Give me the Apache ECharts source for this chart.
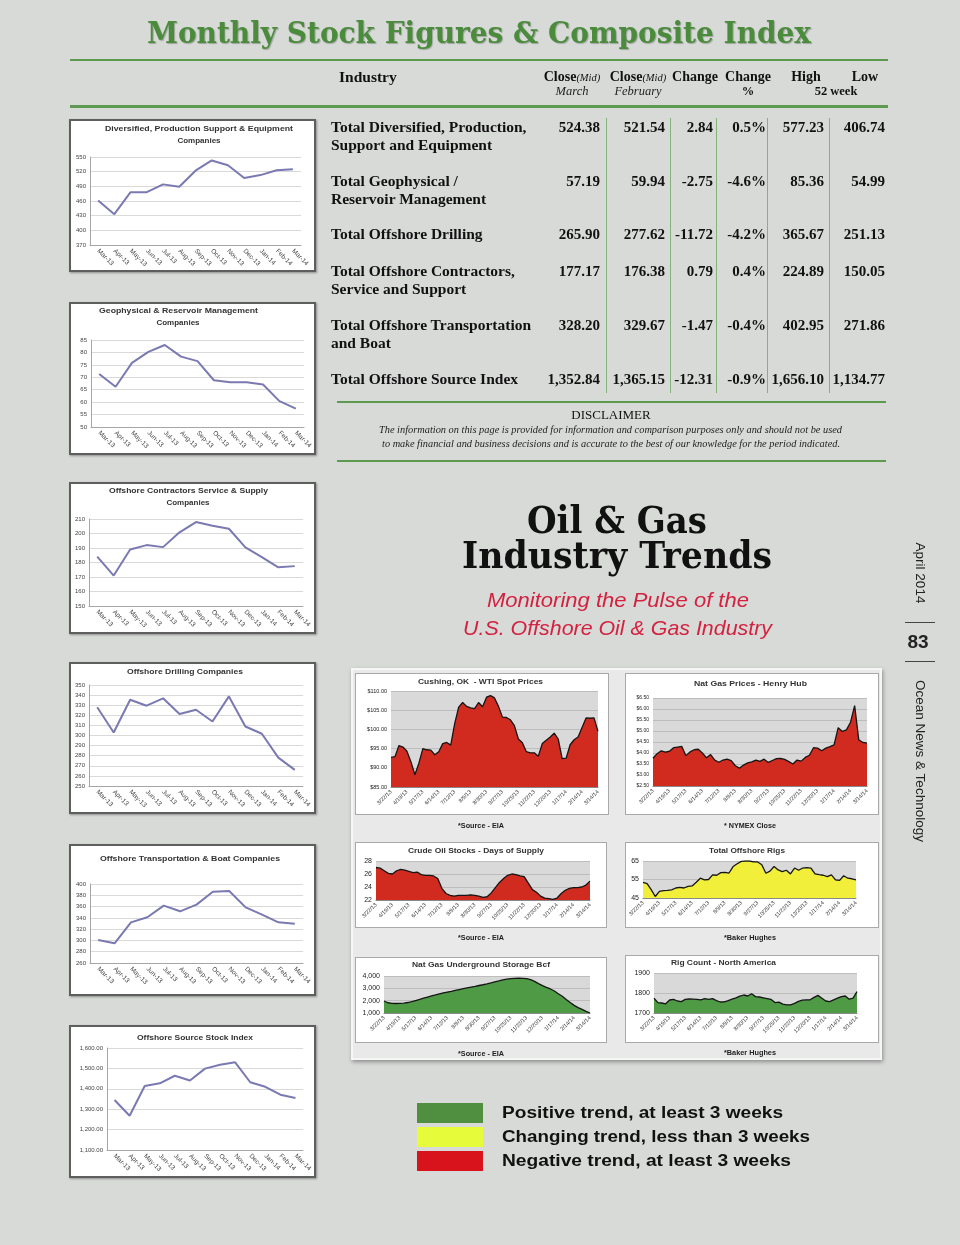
<!DOCTYPE html>
<html><head><meta charset="utf-8">
<script src="https://cdn.jsdelivr.net/npm/echarts@6/dist/echarts.min.js"></script>
<style>
body{margin:0;background:#d8dad8;}
#page{position:relative;width:960px;height:1245px;overflow:hidden;background:#d8dad8;font-family:'Liberation Sans',Arial,sans-serif;}
.t{position:absolute;white-space:nowrap;line-height:1;}
.box{position:absolute;box-sizing:border-box;background:#fff;border:2px solid #5e5e5e;box-shadow:1px 1px 2px rgba(0,0,0,.35);}
.rbox{position:absolute;box-sizing:border-box;background:#fff;border:1px solid #a9a9a9;}
.hl{position:absolute;background:#5d9a50;}
.vl{position:absolute;width:1px;background:#86b07c;}
#chart{position:absolute;left:0;top:0;width:960px;height:1245px;}
</style></head>
<body><div id="page">
<div class="box" style="left:69px;top:119px;width:247px;height:153px"></div>
<div class="box" style="left:69px;top:302px;width:247px;height:153px"></div>
<div class="box" style="left:69px;top:482px;width:247px;height:152px"></div>
<div class="box" style="left:69px;top:662px;width:247px;height:152px"></div>
<div class="box" style="left:69px;top:844px;width:247px;height:152px"></div>
<div class="box" style="left:69px;top:1025px;width:247px;height:153px"></div>
<div style="position:absolute;left:351px;top:668px;width:531px;height:392px;box-sizing:border-box;background:#e9e9e9;border:2px solid #f6f6f6;box-shadow:1px 2px 4px rgba(0,0,0,.35)"></div>
<div class="rbox" style="left:355px;top:673px;width:254px;height:142px"></div>
<div class="rbox" style="left:625px;top:673px;width:254px;height:142px"></div>
<div class="rbox" style="left:355px;top:842px;width:252px;height:86px"></div>
<div class="rbox" style="left:625px;top:842px;width:254px;height:86px"></div>
<div class="rbox" style="left:355px;top:957px;width:252px;height:86px"></div>
<div class="rbox" style="left:625px;top:955px;width:254px;height:88px"></div>
<div class="hl" style="left:70px;top:59px;width:818px;height:2px"></div>
<div class="hl" style="left:70px;top:105px;width:818px;height:3px"></div>
<div class="hl" style="left:337px;top:401px;width:549px;height:2px"></div>
<div class="hl" style="left:337px;top:460px;width:549px;height:2px"></div>
<div class="vl" style="left:606px;top:118px;height:275px"></div>
<div class="vl" style="left:670px;top:118px;height:275px"></div>
<div class="vl" style="left:716px;top:118px;height:275px"></div>
<div class="vl" style="left:767px;top:118px;height:275px"></div>
<div class="vl" style="left:829px;top:118px;height:275px"></div>
<div style="position:absolute;left:905px;top:622px;width:30px;height:1px;background:#444"></div>
<div style="position:absolute;left:905px;top:661px;width:30px;height:1px;background:#444"></div>
<div style="position:absolute;left:417px;top:1103px;width:66px;height:20px;background:#4f8f3f"></div>
<div style="position:absolute;left:417px;top:1127px;width:66px;height:20px;background:#e6fb3a"></div>
<div style="position:absolute;left:417px;top:1151px;width:66px;height:20px;background:#d8131b"></div>
<div id="chart"></div>
</div>
<script>
// ---------- data ----------
const months = ['Mar-13','Apr-13','May-13','Jun-13','Jul-13','Aug-13','Sep-13','Oct-13','Nov-13','Dec-13','Jan-14','Feb-14','Mar-14'];
const diversified = [461,433,478,478,494,489,522,543,533,507,513,523,525];
const geophysical = [71.3,66.2,75.8,80.2,83,78.3,76.5,68.8,68,68,67.1,60.4,57.4];
const contractors = [184,171,189,192,190.6,200.8,207.9,205.4,203.3,190.4,183.7,176.7,177.5];
const drilling = [328,303,335.4,329.5,336.8,321.2,325.5,313.9,338.7,308.9,301.7,278.1,266];
const transport = [300.8,294.9,332,341,361.6,351.6,363.4,386.4,387.6,358.6,345.7,332,329.7];
const sourceIndex = [1345,1268,1414,1427,1464,1441,1499,1518,1530,1432,1410,1371,1355];

const rightTicks = ['3/22/13','4/19/13','5/17/13','6/14/13','7/12/13','8/9/13','8/30/13','9/27/13','10/25/13','11/22/13','12/20/13','1/17/14','2/14/14','3/14/14'];
const wti = [92.7,92.9,95.8,95.4,94.3,91.6,88.2,91.2,95.0,94.7, 94.6,93.4,94.2,96.3,96.6,95.9,101.5,105.8,107.0,106.0, 105.6,105.4,107.0,105.9,108.4,108.8,108.2,106.0,103.2,103.1, 102.5,101.0,97.5,96.5,94.2,93.9,93.9,93.0,96.3,97.2, 98.0,99.0,97.5,92.4,92.5,96.0,97.3,98.0,100.5,103.0, 102.9,103.0,99.5];
const natGas = [3.76,3.97,4.10,4.04,4.08,4.24,4.27,4.30,3.88,4.05, 4.15,4.17,4.00,3.78,3.93,3.68,3.58,3.68,3.72,3.65, 3.42,3.31,3.45,3.55,3.60,3.68,3.62,3.72,3.57,3.66, 3.74,3.75,3.71,3.61,3.50,3.68,3.63,3.80,3.90,4.24, 4.22,4.10,4.22,4.29,4.37,5.15,4.98,5.05,5.40,6.15, 4.60,4.48,4.45];
const crudeDays = [27.0,26.9,26.5,26.1,26.0,26.5,26.7,26.6,26.4,26.2, 26.3,25.9,25.8,25.8,25.7,25.3,23.8,23.0,22.7,22.6, 22.7,22.7,22.7,22.8,22.7,22.6,22.4,22.5,23.1,23.9, 24.7,25.3,25.8,26.0,25.9,25.7,25.6,24.6,23.6,23.2, 22.6,22.3,22.2,22.1,22.3,23.0,23.5,23.8,23.9,23.9, 24.0,24.3,24.9];
const offshoreRigs = [53.4,52.8,49.5,45.8,48.6,49.0,49.1,49.4,50.4,50.7, 50.4,51.3,51.5,53.5,55.7,54.8,55.0,57.5,57.3,58.7, 58.8,58.5,62.0,63.5,64.8,65.0,65.0,64.5,64.5,63.0, 58.4,59.5,62.0,60.2,59.3,60.0,58.0,61.2,60.0,61.2, 61.4,61.2,58.0,57.6,57.3,56.6,57.5,54.8,54.5,57.0, 55.7,55.4,54.8];
const gasStorage = [1972,1830,1780,1770,1775,1800,1850,1920,2010,2100, 2200,2290,2380,2460,2560,2640,2700,2760,2830,2900, 2970,3040,3100,3160,3230,3290,3360,3440,3530,3600, 3680,3740,3780,3810,3820,3810,3790,3700,3560,3380, 3220,3080,2950,2780,2560,2360,2100,1850,1620,1440, 1290,1130,1000];
const rigCountNA = [1774,1752,1750,1746,1765,1768,1760,1757,1768,1770, 1769,1768,1766,1772,1768,1772,1762,1755,1756,1762, 1769,1776,1784,1790,1785,1796,1782,1780,1776,1772, 1768,1752,1754,1744,1741,1741,1748,1758,1764,1766, 1766,1778,1788,1774,1760,1757,1766,1774,1782,1785, 1769,1774,1807];

const industries = ['Total Diversified, Production,\nSupport and Equipment','Total Geophysical /\nReservoir Management','Total Offshore Drilling','Total Offshore Contractors,\nService and Support','Total Offshore Transportation\nand Boat','Total Offshore Source Index'];
const closeMarch = ['524.38','57.19','265.90','177.17','328.20','1,352.84'];
const closeFeb = ['521.54','59.94','277.62','176.38','329.67','1,365.15'];
const changeVal = ['2.84','-2.75','-11.72','0.79','-1.47','-12.31'];
const changePct = ['0.5%','-4.6%','-4.2%','0.4%','-0.4%','-0.9%'];
const high52 = ['577.23','85.36','365.67','224.89','402.95','1,656.10'];
const low52 = ['406.74','54.99','251.13','150.05','271.86','1,134.77'];

// ---------- text helper ----------
const page = document.getElementById('page');
function T(html, x, y, css, align, tw){
  const el = document.createElement('div');
  el.className = 't'; el.innerHTML = html; el.style.cssText += css;
  page.appendChild(el);
  const w = el.getBoundingClientRect().width;
  const s = tw ? tw / w : 1;
  const left = align === 'c' ? x - w * s / 2 : (align === 'r' ? x - w * s : x);
  el.style.left = left + 'px'; el.style.top = y + 'px';
  el.style.transformOrigin = '0 50%';
  el.style.transform = 'translateY(-50%) scaleX(' + s + ')';
  return el;
}
function V(text, x, y, css){
  const el = document.createElement('div');
  el.className = 't'; el.textContent = text;
  el.style.cssText += 'writing-mode:vertical-rl;' + css;
  page.appendChild(el);
  el.style.left = x + 'px'; el.style.top = y + 'px';
  el.style.transform = 'translate(-50%,-50%)';
}

// title & header
T('Monthly Stock Figures &amp; Composite Index', 479, 33, "font-family:'DejaVu Serif';font-weight:bold;font-size:30px;color:#4b8c3c;text-shadow:1px 1px 1px rgba(0,0,0,.25)", 'c', 664);
const serifB = "font-family:'Liberation Serif';font-weight:bold;color:#111;";
T('Industry', 339, 77, serifB + 'font-size:15.5px', 'l');
const mid = '<i style="font-weight:normal;font-size:10.5px">(Mid)</i>';
T('Close' + mid, 572, 77, serifB + 'font-size:14px', 'c');
T('Close' + mid, 638, 77, serifB + 'font-size:14px', 'c');
T('Change', 695, 77, serifB + 'font-size:14px', 'c');
T('Change', 748, 77, serifB + 'font-size:14px', 'c');
T('High', 806, 77, serifB + 'font-size:14px', 'c');
T('Low', 865, 77, serifB + 'font-size:14px', 'c');
const serifI = "font-family:'Liberation Serif';font-style:italic;color:#222;font-size:12.5px;";
T('March', 572, 91, serifI, 'c');
T('February', 638, 91, serifI, 'c');
T('%', 748, 91, serifB + 'font-size:12.5px', 'c');
T('52 week', 836, 91, serifB + 'font-size:12.5px', 'c');

// table rows
const rowY = [127, 181, 234, 271, 325, 379];
const colRight = [600, 665, 713, 766, 824, 885];
const cols = [closeMarch, closeFeb, changeVal, changePct, high52, low52];
industries.forEach((name, r) => {
  name.split('\n').forEach((ln, k) => T(ln, 331, rowY[r] + k * 18, serifB + 'font-size:15.5px', 'l'));
  cols.forEach((c, j) => T(c[r], colRight[j], rowY[r], serifB + 'font-size:15px', 'r'));
});
T('DISCLAIMER', 611, 414, "font-family:'Liberation Serif';font-size:13px;color:#111", 'c');
T('The information on this page is provided for information and comparison purposes only and should not be used', 610, 430, "font-family:'Liberation Serif';font-style:italic;font-size:10px;color:#222", 'c', 463);
T('to make financial and business decisions and is accurate to the best of our knowledge for the period indicated.', 611, 444, "font-family:'Liberation Serif';font-style:italic;font-size:10px;color:#222", 'c', 458);

// centre titles
const slab = "font-family:'DejaVu Serif';font-weight:bold;color:#111;";
T('Oil &amp; Gas', 617, 520, slab + 'font-size:38px', 'c', 180);
T('Industry Trends', 617, 555, slab + 'font-size:38px', 'c', 310);
const redI = "font-family:'Liberation Sans';font-style:italic;color:#d3213f;font-size:21px;";
T('Monitoring the Pulse of the', 618, 599, redI, 'c', 262);
T('U.S. Offshore Oil &amp; Gas Industry', 617.5, 627, redI, 'c', 309);

// side text
V('April 2014', 920, 573, "font-family:'Liberation Sans';font-size:13.5px;color:#222");
T('83', 918, 641, "font-family:'Liberation Sans';font-weight:bold;font-size:19px;color:#222", 'c');
V('Ocean News & Technology', 920, 761, "font-family:'Liberation Sans';font-size:13.5px;color:#222");

// legend
const legB = "font-family:'Liberation Sans';font-weight:bold;font-size:16px;color:#111;";
T('Positive trend, at least 3 weeks', 502, 1113, legB, 'l', 281);
T('Changing trend, less than 3 weeks', 502, 1137, legB, 'l', 308);
T('Negative trend, at least 3 weeks', 502, 1161, legB, 'l', 289);

// chart titles
const ct = "font-family:'Liberation Sans';font-weight:bold;font-size:8px;color:#333;";
T('Diversified, Production Support &amp; Equipment', 199, 129, ct, 'c', 188);
T('Companies', 199, 141, ct, 'c');
T('Geophysical &amp; Reservoir Management', 178, 311, ct, 'c', 159);
T('Companies', 178, 323, ct, 'c');
T('Offshore Contractors Service &amp; Supply', 188, 491, ct, 'c', 159);
T('Companies', 188, 503, ct, 'c');
T('Offshore Drilling Companies', 185, 672, ct, 'c', 116);
T('Offshore Transportation &amp; Boat Companies', 190, 859, ct, 'c', 180);
T('Offshore Source Stock Index', 195, 1038, ct, 'c', 116);
T('Cushing, OK &nbsp;- WTI Spot Prices', 480, 682, ct, 'c', 125);
T('Nat Gas Prices - Henry Hub', 750, 684, ct, 'c', 113);
T('Crude Oil Stocks - Days of Supply', 476, 851, ct, 'c', 136);
T('Total Offshore Rigs', 747, 851, ct, 'c', 76);
T('Nat Gas Underground Storage Bcf', 481, 965, ct, 'c', 138);
T('Rig Count - North America', 723, 963, ct, 'c', 105);
const src = "font-family:'Liberation Sans';font-weight:bold;font-size:7px;color:#222;";
T('*Source - EIA', 481, 825, src, 'c', 46);
T('* NYMEX Close', 750, 825, src, 'c', 52);
T('*Source - EIA', 481, 937, src, 'c', 46);
T('*Baker Hughes', 750, 937, src, 'c', 52);
T('*Source - EIA', 481, 1053, src, 'c', 46);
T('*Baker Hughes', 750, 1052, src, 'c', 52);

// ---------- charts ----------
const weekCats = [];
for (let i = 0; i <= (rightTicks.length - 1) * 4; i++) weekCats.push(i % 4 === 0 ? rightTicks[i / 4] : '');

const grids = [], xAxes = [], yAxes = [], series = [];
function addLeft(cfg){
  const i = grids.length;
  grids.push(Object.assign({outerBoundsMode:'none', containLabel:false}, cfg.grid));
  xAxes.push({type:'category', gridIndex:i, data:months, boundaryGap:true,
    axisLine:{lineStyle:{color:'#a6a6a6'}}, axisTick:{show:false},
    axisLabel:{rotate:-45, interval:0, fontSize:6.5, color:'#444', margin:5, fontFamily:'Liberation Sans'}});
  yAxes.push({type:'value', gridIndex:i, min:cfg.min, max:cfg.max, interval:cfg.interval,
    axisLine:{show:true, lineStyle:{color:'#a6a6a6'}}, axisTick:{show:false},
    splitLine:{show:true, lineStyle:{color:'#d9d9d9'}},
    axisLabel:{fontSize:6, color:'#444', margin:4, fontFamily:'Liberation Sans', formatter:cfg.fmt}});
  series.push({type:'line', xAxisIndex:i, yAxisIndex:i, data:cfg.data, symbol:'none', silent:true,
    lineStyle:{color:'#7a79b2', width:2}});
}
function addRight(cfg){
  const i = grids.length;
  grids.push(Object.assign({outerBoundsMode:'none', containLabel:false, show:true, backgroundColor:'#d9d9d9', borderWidth:0}, cfg.grid));
  xAxes.push({type:'category', gridIndex:i, data:weekCats, boundaryGap:false,
    axisLine:{lineStyle:{color:'#8a8a8a'}}, axisTick:{show:false},
    axisLabel:{rotate:45, interval:0, fontSize:5.5, color:'#333', margin:4, fontFamily:'Liberation Sans'}});
  yAxes.push({type:'value', gridIndex:i, min:cfg.min, max:cfg.max, interval:cfg.interval,
    axisLine:{show:false}, axisTick:{show:false},
    splitLine:{show:true, lineStyle:{color:'#bdbdbd'}},
    axisLabel:{fontSize:cfg.fs, color:'#222', margin:4, fontFamily:'Liberation Sans', formatter:cfg.fmt}});
  series.push({type:'line', xAxisIndex:i, yAxisIndex:i, data:cfg.data, symbol:'none', silent:true,
    lineStyle:{color:'#151515', width:1.3}, areaStyle:{color:cfg.color, opacity:1, origin:'start'}});
}
const comma2 = v => v.toLocaleString('en-US', {minimumFractionDigits:2, maximumFractionDigits:2});
const dollar = v => '$' + v.toFixed(2);
const comma0 = v => v.toLocaleString('en-US');
const plain = v => String(v);

addLeft({data:diversified, min:370, max:550, interval:30, grid:{left:90, top:157, width:211, height:88}});
addLeft({data:geophysical, min:50, max:85, interval:5, grid:{left:91, top:340, width:213, height:87}});
addLeft({data:contractors, min:150, max:210, interval:10, grid:{left:89, top:519, width:214, height:87}});
addLeft({data:drilling, min:250, max:350, interval:10, grid:{left:89, top:685, width:214, height:101}});
addLeft({data:transport, min:260, max:400, interval:20, grid:{left:90, top:884, width:213, height:79}});
addLeft({data:sourceIndex, min:1100, max:1600, interval:100, fmt:comma2, grid:{left:107, top:1048, width:196, height:102}});

addRight({data:wti, min:85, max:110, interval:5, fs:5.5, fmt:dollar, color:'#d12a1f', grid:{left:391, top:691, width:207, height:96}});
addRight({data:natGas, min:2.5, max:6.5, interval:0.5, fs:5, fmt:dollar, color:'#d12a1f', grid:{left:653, top:698, width:214, height:88}});
addRight({data:crudeDays, min:22, max:28, interval:2, fs:7, fmt:plain, color:'#d12a1f', grid:{left:376, top:861, width:214, height:39}});
addRight({data:offshoreRigs, min:45, max:65, interval:10, fs:7, fmt:plain, color:'#f2ef3a', grid:{left:643, top:861, width:213, height:37}});
addRight({data:gasStorage, min:1000, max:4000, interval:1000, fs:7, fmt:comma0, color:'#4f9a45', grid:{left:384, top:976, width:206, height:37}});
addRight({data:rigCountNA, min:1700, max:1900, interval:100, fs:7, fmt:plain, color:'#4f9a45', grid:{left:654, top:973, width:203, height:40}});

const chart = echarts.init(document.getElementById('chart'));
chart.setOption({backgroundColor:'transparent', animation:false, grid:grids, xAxis:xAxes, yAxis:yAxes, series:series});
</script>
</body></html>
